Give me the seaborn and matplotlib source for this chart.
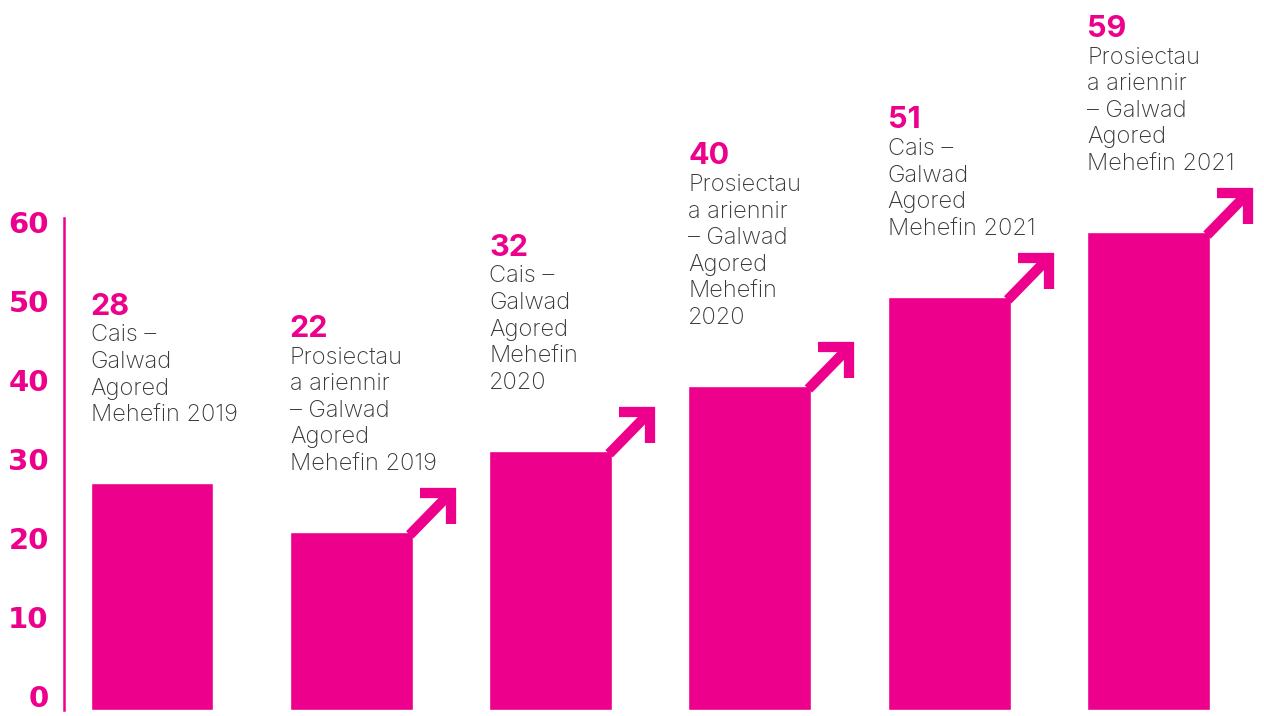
import matplotlib
matplotlib.use("Agg")
import matplotlib.pyplot as plt
import seaborn as sns
from matplotlib.transforms import Affine2D


# DATA
labels = [
    "Cais –\nGalwad\nAgored\nMehefin 2019",
    "Prosiectau\na ariennir\n– Galwad\nAgored\nMehefin 2019",
    "Cais –\nGalwad\nAgored\nMehefin\n2020",
    "Prosiectau\na ariennir\n– Galwad\nAgored\nMehefin\n2020",
    "Cais –\nGalwad\nAgored\nMehefin 2021",
    "Prosiectau\na ariennir\n– Galwad\nAgored\nMehefin 2021",
]
values = [28, 22, 32, 40, 51, 59]
has_arrow = [False, True, True, True, True, True]
yticks = [0, 10, 20, 30, 40, 50, 60]


# STYLE
pink = "#EC008C"
grey = "#383838"
bar_w = 0.617
sns.set_style("white")
plt.rcParams["font.family"] = ["Inter", "DejaVu Sans"]

fig = plt.figure(figsize=(12.64, 7.16), dpi=100)
ax = fig.add_axes([64 / 1264, 6 / 716, 1200 / 1264, 710 / 716])

sns.barplot(x=list(range(len(values))), y=values, color=pink, saturation=1,
            width=bar_w, ax=ax)

ax.set_xlim(-0.4415, 5.5795)
ax.set_ylim(0, 87.65)

# AXIS
for side in ["top", "right", "bottom"]:
    ax.spines[side].set_visible(False)
ax.spines["left"].set_color(pink)
ax.spines["left"].set_linewidth(1.8)
ax.spines["left"].set_bounds(0, 60.7)
ax.set_xticks([])
ax.set_yticks(yticks)
ax.set_yticklabels([str(t) for t in yticks], color=pink, fontsize=21,
                   fontweight="heavy", family="DejaVu Sans")
ax.tick_params(axis="y", length=0, pad=11)
# tick labels sit a little above their values in the original, more so near 0
for t, val in zip(ax.get_yticklabels(), yticks):
    t.set_transform(t.get_transform() + Affine2D().translate(0, 14 - val / 5))
ax.set_xlabel("")
ax.set_ylabel("")

# LABELS + ARROWS
gap = 62
line_h = 26.6
for i, (lab, v) in enumerate(zip(labels, values)):
    left = i - bar_w / 2
    lines = lab.split("\n")
    n = len(lines)
    for k, line in enumerate(lines):
        off = gap + (n - 1 - k) * line_h
        ax.annotate(line, xy=(left, v), xytext=(0, off),
                    textcoords="offset pixels", ha="left", va="baseline",
                    fontsize=17, color=grey, fontweight="light")
    ax.annotate(str(v), xy=(left, v), xytext=(0, gap + n * line_h),
                textcoords="offset pixels", ha="left", va="baseline",
                fontsize=22, color=pink, fontweight="bold")

    if has_arrow[i]:
        px, py = ax.transData.transform((i + bar_w / 2, v))
        tr = Affine2D().translate(px, py)
        ax.plot([-3, 38], [-3, 39], color=pink, lw=7.4, transform=tr,
                solid_capstyle="butt", clip_on=False)
        ax.plot([7, 38, 38], [39, 39, 8], color=pink, lw=7.4, transform=tr,
                solid_joinstyle="miter", solid_capstyle="butt", clip_on=False)

fig.savefig("out.png", dpi=100)
